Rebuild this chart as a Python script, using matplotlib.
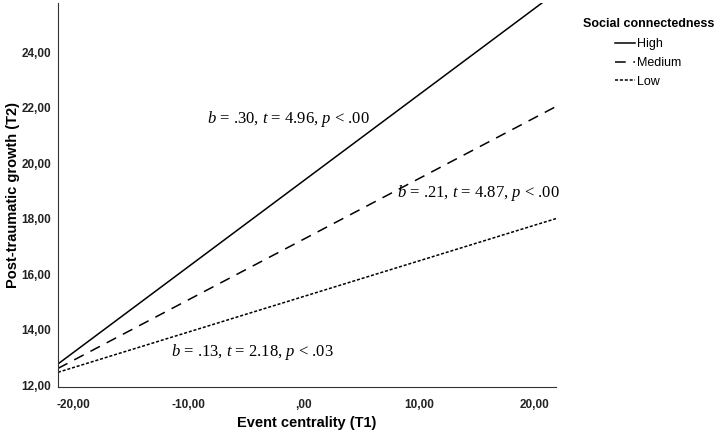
import numpy as np
import matplotlib.pyplot as plt

# event centrality range (T1) and predicted PTG at each end
x = np.array([-21.35, 21.9])
high = np.array([12.76, 26.15])
medium = np.array([12.6, 22.04])
low = np.array([12.46, 18.0])

groups = ["High", "Medium", "Low"]
xticks = [-20, -10, 0, 10, 20]
yticks = [12, 14, 16, 18, 20, 22, 24]

notes = [(".30", "4.96", ".00"), (".21", "4.87", ".00"), (".13", "2.18", ".03")]

plt.rcParams['font.family'] = 'Liberation Sans'
plt.rcParams['mathtext.fontset'] = 'custom'
plt.rcParams['mathtext.it'] = 'Liberation Serif:italic'
plt.rcParams['mathtext.rm'] = 'Liberation Serif'


def fmt(v):
    s = f"{v:.2f}".replace(".", ",")
    return s.replace("0,", ",", 1) if s.startswith("0,") else s


fig = plt.figure(figsize=(7.14, 4.36), dpi=100)
ax = fig.add_axes([0.0812, 0.1124, 0.6975, 0.8806])

l1, = ax.plot(x, high, color='black', lw=1.1, ls='-')
l2, = ax.plot(x, medium, color='black', lw=1.1, ls=(0, (7, 5)))
l3, = ax.plot(x, low, color='black', lw=1.1, ls=(0, (2, 1.2)))

ax.set_xlim(x[0], x[1])
ax.set_ylim(11.93, 25.77)
ax.set_xticks(xticks)
ax.set_yticks(yticks)
ax.set_xticklabels([fmt(v) for v in xticks])
ax.set_yticklabels([fmt(v) for v in yticks])
ax.tick_params(axis='x', length=0, labelsize=8.5, pad=9, colors='#222222')
ax.tick_params(axis='y', length=0, labelsize=8.5, pad=5, colors='#222222')
for lab in ax.get_xticklabels() + ax.get_yticklabels():
    lab.set_fontweight('bold')
ax.spines['top'].set_visible(False)
ax.spines['right'].set_visible(False)
ax.spines['left'].set_color('#333333')
ax.spines['bottom'].set_color('#333333')

ax.set_xlabel("Event centrality (T1)", fontsize=10.5, fontweight='bold')
ax.set_ylabel("Post-traumatic growth (T2)", fontsize=10.5, fontweight='bold')
ax.xaxis.set_label_coords(0.5, -0.075)
ax.yaxis.set_label_coords(-0.077, 0.5)

pos = [(-1.35, 21.59), (15.2, 18.92), (-4.46, 13.19)]
for (bv, tv, pv), (tx, ty) in zip(notes, pos):
    ax.text(tx, ty, rf"$b$ = {bv}, $t$ = {tv}, $p$ < {pv}", family='Liberation Serif',
            fontsize=12, ha='center', va='center')

leg = fig.legend([l1, l2, l3], groups, loc='upper center', bbox_to_anchor=(0.908, 0.985),
                 frameon=False, title="Social connectedness", fontsize=9,
                 handlelength=1.6, handletextpad=0.15, labelspacing=0.55)
leg.get_title().set_fontweight('bold')
leg.get_title().set_fontsize(9)
leg._legend_box.align = 'center'
leg._legend_box.sep = 6

fig.savefig("out.png", dpi=100)
